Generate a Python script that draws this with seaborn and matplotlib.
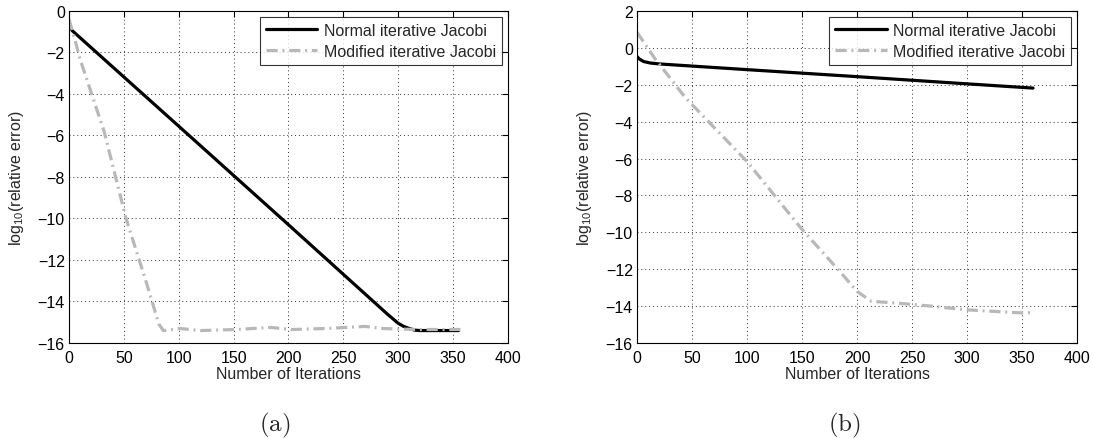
import numpy as np
import pandas as pd
import matplotlib
matplotlib.use("Agg")
import matplotlib.pyplot as plt
import seaborn as sns

# Panel (a): convergence histories
a_normal_iter = [0, 3, 100, 200, 290, 300, 305, 310, 315, 320, 340, 355]
a_normal_err = [-0.7, -0.95, -5.55, -10.3, -14.6, -15.05, -15.2, -15.3, -15.38, -15.4, -15.4, -15.4]
a_mod_iter = [0, 5, 10, 32, 52, 70, 82, 86, 95, 101, 120, 152, 184, 203, 235, 270, 285, 317, 360]
a_mod_err = [-0.4, -1.3, -2.3, -5.8, -10.0, -13.0, -15.1, -15.4, -15.35, -15.3, -15.4, -15.35,
             -15.25, -15.35, -15.3, -15.2, -15.3, -15.35, -15.35]

# Panel (b): convergence histories
b_normal_iter = [0, 2, 6, 12, 20, 100, 200, 300, 360]
b_normal_err = [-0.47, -0.6, -0.74, -0.82, -0.87, -1.18, -1.56, -1.95, -2.18]
b_mod_iter = [0, 16, 44, 100, 149, 184, 200, 213, 235, 267, 299, 350, 360]
b_mod_err = [0.85, -0.56, -2.7, -6.16, -9.77, -12.1, -13.2, -13.74, -13.83, -14.0, -14.2, -14.37, -14.35]

labels = ["Normal iterative Jacobi", "Modified iterative Jacobi"]
captions = ["a", "b"]

sns.set_style("white")
plt.rcParams["font.family"] = ["Liberation Sans", "DejaVu Sans"]
plt.rcParams["mathtext.fontset"] = "custom"
plt.rcParams["mathtext.rm"] = "Liberation Sans"
plt.rcParams["mathtext.it"] = "Liberation Sans:italic"

FS = 11.5
DASHDOT = [3.5, 1.5, 0.6, 1.5]
fig = plt.figure(figsize=(10.93, 4.39), dpi=100)
ax_a = fig.add_axes([0.0631, 0.2164, 0.4016, 0.7563])
ax_b = fig.add_axes([0.5828, 0.2164, 0.4026, 0.7563])

panels = [
    (ax_a, a_normal_iter, a_normal_err, a_mod_iter, a_mod_err, (-16, 0), range(-16, 1, 2)),
    (ax_b, b_normal_iter, b_normal_err, b_mod_iter, b_mod_err, (-16, 2), range(-16, 3, 2)),
]

for ax, ni, ne, mi, me, ylim, yticks in panels:
    df_n = pd.DataFrame({"iter": ni, "err": ne})
    df_m = pd.DataFrame({"iter": mi, "err": me})
    sns.lineplot(data=df_n, x="iter", y="err", ax=ax, color="black", lw=2.3,
                 label=labels[0], estimator=None, sort=False)
    sns.lineplot(data=df_m, x="iter", y="err", ax=ax, color="#b8b8b8", lw=2.3,
                 label=labels[1], estimator=None, sort=False, dashes=False)
    ax.lines[1].set_dashes(DASHDOT)
    ax.set_xlim(0, 400)
    ax.set_ylim(*ylim)
    ax.set_xticks(range(0, 401, 50))
    ax.set_yticks(list(yticks))
    ax.set_yticklabels([f"\u2212{abs(v)}" if v < 0 else str(v) for v in yticks])
    ax.grid(True, linestyle=(0, (1, 3)), color="#333333", lw=0.7)
    ax.tick_params(direction="in", length=4, width=0.8, top=True, right=True,
                   labelsize=FS, colors="black")
    ax.tick_params(axis="x", pad=5)
    ax.tick_params(axis="y", pad=3)
    for s in ax.spines.values():
        s.set_color("black")
        s.set_linewidth(0.8)
    ax.set_xlabel("Number of Iterations", fontsize=FS, labelpad=1)
    ax.set_ylabel(r"log$_{10}$(relative error)", fontsize=FS, labelpad=8)
    leg = ax.legend(loc="upper right", fontsize=FS, handlelength=3.2,
                    frameon=True, fancybox=False, borderpad=0.4, labelspacing=0.35,
                    borderaxespad=0.35, handletextpad=0.4)
    leg.get_frame().set_edgecolor("black")
    leg.get_frame().set_linewidth(0.8)
    leg.get_lines()[1].set_dashes(DASHDOT)

for cx, cap in zip([275, 844], captions):
    fig.text(cx / 1093, 1 - 425 / 439, r"$(\mathrm{%s})$" % cap, ha="center", va="center",
             fontsize=18, math_fontfamily="cm")

fig.savefig("out.png", dpi=100)
